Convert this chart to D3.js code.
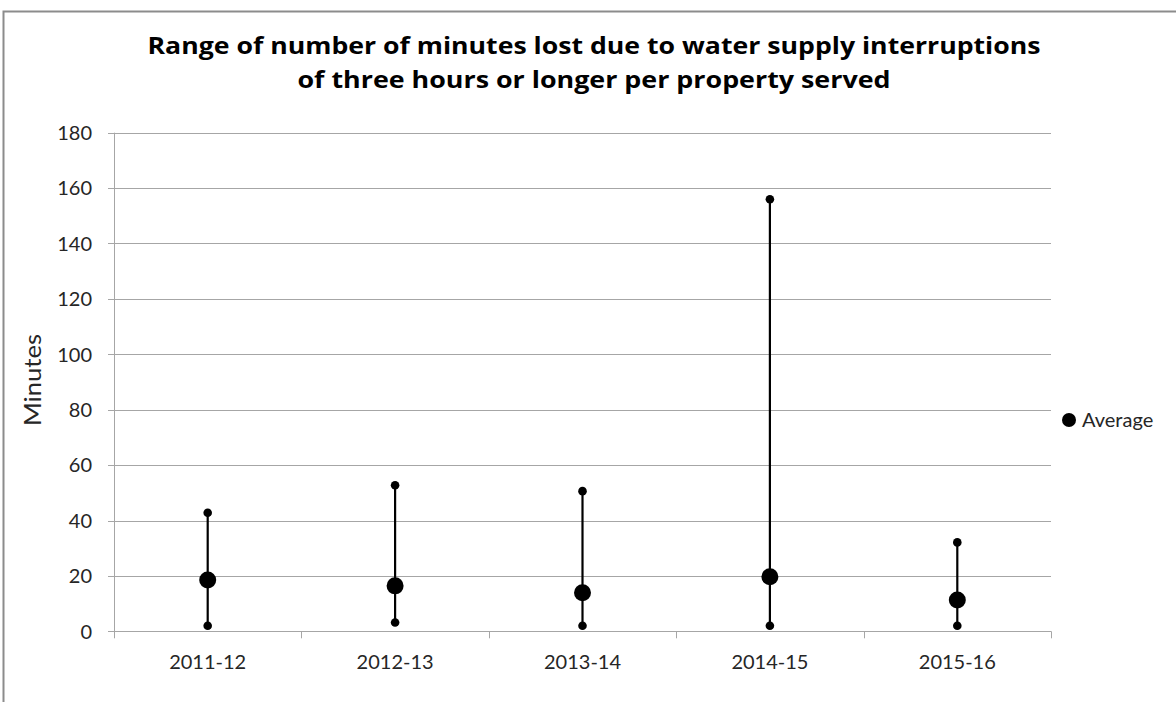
<!DOCTYPE html>
<html>
<head>
<meta charset="utf-8">
<script src="https://cdn.jsdelivr.net/npm/d3@7"></script>
<style>
  html, body { margin: 0; padding: 0; background: #fff; }
  svg { display: block; }
</style>
</head>
<body>
<svg id="chart" width="1176" height="702"></svg>
<script>
// Minutes lost per property served, by reporting year
const years    = ["2011-12", "2012-13", "2013-14", "2014-15", "2015-16"];
const minVals  = [2.0, 3.2, 2.0, 2.0, 2.0];
const maxVals  = [42.8, 52.7, 50.6, 156.0, 32.1];
const avgVals  = [18.5, 16.4, 13.9, 19.7, 11.3];
const yTicks   = [0, 20, 40, 60, 80, 100, 120, 140, 160, 180];

const titleLines = [
  "Range of number of minutes lost due to water supply interruptions",
  "of three hours or longer per property served"
];
const titleWidths = [893, 593];

const svg = d3.select("#chart");
const W = 1176, H = 702;
const plot = { left: 114, right: 1051, top: 132.7, bottom: 631.3 };
const font = "Lato, 'Open Sans', sans-serif";
const titleFont = "'Open Sans', Lato, sans-serif";
const textColor = "#262626";

// chart frame
svg.append("path")
  .attr("d", `M3.5,${H} L3.5,11.5 L${W},11.5`)
  .attr("fill", "none")
  .attr("stroke", "#8c8c8c")
  .attr("stroke-width", 2);

const x = d3.scaleBand().domain(years).range([plot.left, plot.right]);
const y = d3.scaleLinear().domain([0, 180]).range([plot.bottom, plot.top]);

// horizontal gridlines
svg.append("g")
  .selectAll("line")
  .data(yTicks)
  .join("line")
  .attr("x1", plot.left - 6)
  .attr("x2", plot.right)
  .attr("y1", d => Math.round(y(d)) + 0.5)
  .attr("y2", d => Math.round(y(d)) + 0.5)
  .attr("stroke", "#a6a6a6")
  .attr("stroke-width", 1);

// y axis labels
svg.append("g")
  .selectAll("text")
  .data(yTicks)
  .join("text")
  .attr("x", plot.left - 22)
  .attr("y", d => y(d))
  .attr("dy", "0.36em")
  .attr("text-anchor", "end")
  .attr("font-family", font)
  .attr("font-size", 20)
  .attr("fill", textColor)
  .text(d => d);

// y axis line
svg.append("line")
  .attr("x1", plot.left + 0.5).attr("x2", plot.left + 0.5)
  .attr("y1", plot.top).attr("y2", plot.bottom + 1)
  .attr("stroke", "#a6a6a6");

// x axis category boundary ticks
const bounds = years.map(d => x(d)).concat([plot.right]);
svg.append("g")
  .selectAll("line")
  .data(bounds)
  .join("line")
  .attr("x1", d => Math.round(d) + 0.5)
  .attr("x2", d => Math.round(d) + 0.5)
  .attr("y1", plot.bottom)
  .attr("y2", plot.bottom + 7)
  .attr("stroke", "#a6a6a6");

// x axis labels
svg.append("g")
  .selectAll("text")
  .data(years)
  .join("text")
  .attr("x", d => x(d) + x.bandwidth() / 2)
  .attr("y", 669)
  .attr("text-anchor", "middle")
  .attr("font-family", font)
  .attr("font-size", 20)
  .attr("fill", textColor)
  .text(d => d);

// y axis title
svg.append("text")
  .attr("transform", `translate(41,380) rotate(-90)`)
  .attr("text-anchor", "middle")
  .attr("font-family", font)
  .attr("font-size", 23)
  .attr("textLength", 92)
  .attr("lengthAdjust", "spacingAndGlyphs")
  .attr("fill", textColor)
  .text("Minutes");

// title
svg.append("g")
  .selectAll("text")
  .data(titleLines)
  .join("text")
  .attr("x", 594)
  .attr("y", (d, i) => 54 + i * 34)
  .attr("text-anchor", "middle")
  .attr("font-family", titleFont)
  .attr("font-weight", "bold")
  .attr("font-size", 24)
  .attr("textLength", (d, i) => titleWidths[i])
  .attr("lengthAdjust", "spacingAndGlyphs")
  .attr("fill", "#000")
  .text(d => d);

// range lines, min/max end points and averages
const rows = years.map((d, i) => ({ year: d, min: minVals[i], max: maxVals[i], avg: avgVals[i] }));
const cx = d => x(d.year) + x.bandwidth() / 2;

const marks = svg.append("g");
marks.selectAll("line.range")
  .data(rows)
  .join("line")
  .attr("class", "range")
  .attr("x1", cx).attr("x2", cx)
  .attr("y1", d => y(d.min)).attr("y2", d => y(d.max))
  .attr("stroke", "#000")
  .attr("stroke-width", 2.2);

marks.selectAll("circle.hi")
  .data(rows)
  .join("circle")
  .attr("class", "hi")
  .attr("cx", cx).attr("cy", d => y(d.max)).attr("r", 4.3)
  .attr("fill", "#000");

marks.selectAll("circle.lo")
  .data(rows)
  .join("circle")
  .attr("class", "lo")
  .attr("cx", cx).attr("cy", d => y(d.min)).attr("r", 4.3)
  .attr("fill", "#000");

marks.selectAll("circle.avg")
  .data(rows)
  .join("circle")
  .attr("class", "avg")
  .attr("cx", cx).attr("cy", d => y(d.avg)).attr("r", 8.5)
  .attr("fill", "#000");

// legend
const legend = svg.append("g").attr("transform", "translate(1069,420)");
legend.append("circle").attr("r", 7).attr("fill", "#000");
legend.append("text")
  .attr("x", 13)
  .attr("dy", "0.36em")
  .attr("font-family", font)
  .attr("font-size", 20)
  .attr("fill", textColor)
  .text("Average");
</script>
</body>
</html>
